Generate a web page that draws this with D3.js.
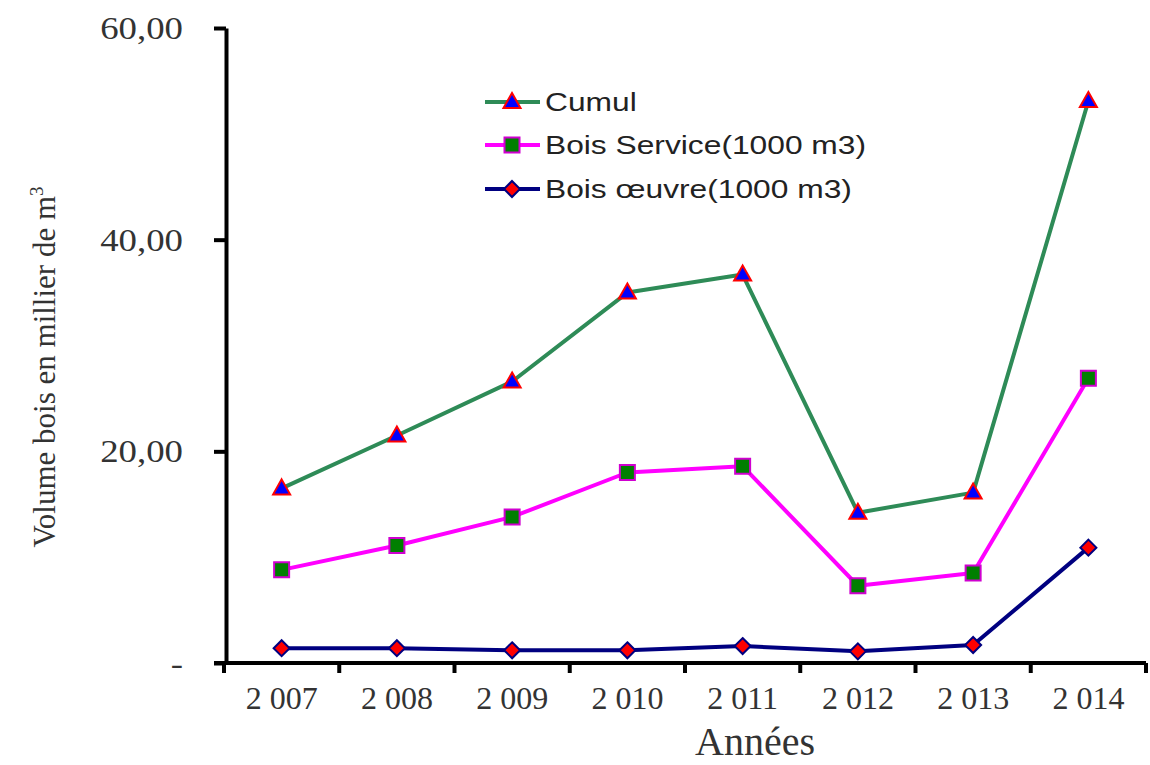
<!DOCTYPE html>
<html>
<head>
<meta charset="utf-8">
<script src="https://cdn.jsdelivr.net/npm/d3@7"></script>
<style>
  html, body { margin: 0; padding: 0; background: #fff; }
  svg { display: block; }
</style>
</head>
<body>
<svg id="chart" width="1150" height="765"></svg>
<script>
// Years on the horizontal axis
const years = ["2 007", "2 008", "2 009", "2 010", "2 011", "2 012", "2 013", "2 014"];

// Volumes in thousands of m3
const cumul        = [16.5, 21.5, 26.6, 35.0, 36.7, 14.2, 16.1, 53.1];
const boisService  = [8.8, 11.1, 13.8, 18.0, 18.6, 7.3, 8.5, 26.9];
const boisOeuvre   = [1.4, 1.4, 1.2, 1.2, 1.6, 1.1, 1.7, 10.9];

// Y tick values and their labels
const yTicks = [0, 20, 40, 60];
const yTickLabels = ["-", "20,00", "40,00", "60,00"];

const seriesNames = ["Cumul", "Bois Service(1000 m3)", "Bois œuvre(1000 m3)"];

const svg = d3.select("#chart");

const x = d3.scaleBand().domain(years).range([224, 1146]).paddingInner(0).paddingOuter(0);
const y = d3.scaleLinear().domain([0, 60]).range([663, 28]);

const series = [
  { name: seriesNames[0], values: cumul,       line: "#2e8b57", shape: "triangle", fill: "#0000ff", stroke: "#ff0000" },
  { name: seriesNames[1], values: boisService, line: "#ff00ff", shape: "square",   fill: "#007f00", stroke: "#d000d0" },
  { name: seriesNames[2], values: boisOeuvre,  line: "#000080", shape: "diamond",  fill: "#ff0000", stroke: "#000080" }
];

// Marker paths centred on (0,0)
function markerPath(shape) {
  if (shape === "triangle") return "M0,-9 L8.5,6 L-8.5,6 Z";
  if (shape === "square") return "M-7.5,-7.5 L7.5,-7.5 L7.5,7.5 L-7.5,7.5 Z";
  return "M0,-8 L8,0 L0,8 L-8,0 Z";
}

// Lines
const line = d3.line()
  .x((d, i) => x(years[i]) + x.bandwidth() / 2)
  .y(d => y(d));

series.forEach(s => {
  svg.append("path")
    .datum(s.values)
    .attr("d", line)
    .attr("fill", "none")
    .attr("stroke", s.line)
    .attr("stroke-width", 4)
    .attr("stroke-linejoin", "round");
});

series.forEach(s => {
  svg.append("g").selectAll("path")
    .data(s.values)
    .join("path")
    .attr("transform", (d, i) => `translate(${x(years[i]) + x.bandwidth() / 2},${y(d)})`)
    .attr("d", markerPath(s.shape))
    .attr("fill", s.fill)
    .attr("stroke", s.stroke)
    .attr("stroke-width", 2);
});

// Y axis
const yAxis = d3.axisLeft(y)
  .tickValues(yTicks)
  .tickFormat("")
  .tickSize(12)
  .tickSizeOuter(0);
const gy = svg.append("g").attr("transform", "translate(226,0)").call(yAxis);
gy.select(".domain").attr("stroke", "#000").attr("stroke-width", 4);
gy.selectAll(".tick line").attr("stroke", "#000").attr("stroke-width", 4);

svg.append("g").selectAll("text")
  .data(yTicks)
  .join("text")
  .attr("transform", d => `translate(183,${y(d) + 11}) scale(1.15,1)`)
  .attr("text-anchor", "end")
  .attr("font-family", "Liberation Serif, Times New Roman, serif")
  .attr("font-size", 32)
  .attr("fill", "#333")
  .text((d, i) => yTickLabels[i]);

// X axis
const xAxis = d3.axisBottom(x).tickFormat("").tickSize(0).tickSizeOuter(0);
const gx = svg.append("g").attr("transform", "translate(0,663)").call(xAxis);
gx.select(".domain").attr("stroke", "#000").attr("stroke-width", 4);
gx.select(".domain").attr("d", "M214,0H1146");

// Tick marks at band boundaries
const boundaries = years.map(d => x(d)).concat([x(years[years.length - 1]) + x.bandwidth()]);
gx.selectAll("line.bound")
  .data(boundaries)
  .join("line")
  .attr("class", "bound")
  .attr("x1", d => d).attr("x2", d => d)
  .attr("y1", 0).attr("y2", 10)
  .attr("stroke", "#000").attr("stroke-width", 4);

svg.append("g").selectAll("text")
  .data(years)
  .join("text")
  .attr("x", d => x(d) + x.bandwidth() / 2)
  .attr("y", 709)
  .attr("text-anchor", "middle")
  .attr("font-family", "Liberation Serif, Times New Roman, serif")
  .attr("font-size", 32)
  .attr("fill", "#333")
  .text(d => d);

// Axis titles
svg.append("text")
  .attr("x", 695)
  .attr("y", 755)
  .attr("font-family", "Liberation Serif, Times New Roman, serif")
  .attr("font-size", 40)
  .attr("fill", "#333")
  .text("Années");

const yTitle = svg.append("text")
  .attr("transform", "translate(55,367) rotate(-90)")
  .attr("text-anchor", "middle")
  .attr("font-family", "Liberation Serif, Times New Roman, serif")
  .attr("font-size", 31)
  .attr("fill", "#333");
yTitle.append("tspan").text("Volume bois en millier de m");
yTitle.append("tspan").attr("font-size", 19).attr("dy", -12).text("3");

// Legend
const legendRows = [102, 145, 189];
const legend = svg.append("g");
series.forEach((s, i) => {
  const ly = legendRows[i];
  legend.append("line")
    .attr("x1", 485).attr("x2", 540)
    .attr("y1", ly).attr("y2", ly)
    .attr("stroke", s.line).attr("stroke-width", 4);
  legend.append("path")
    .attr("transform", `translate(512,${ly})`)
    .attr("d", markerPath(s.shape))
    .attr("fill", s.fill)
    .attr("stroke", s.stroke)
    .attr("stroke-width", 2);
  legend.append("text")
    .attr("transform", `translate(545,${ly + 9}) scale(1.27,1)`)
    .attr("font-family", "Liberation Sans, Arial, sans-serif")
    .attr("font-size", 25)
    .attr("fill", "#222")
    .text(s.name);
});
</script>
</body>
</html>
